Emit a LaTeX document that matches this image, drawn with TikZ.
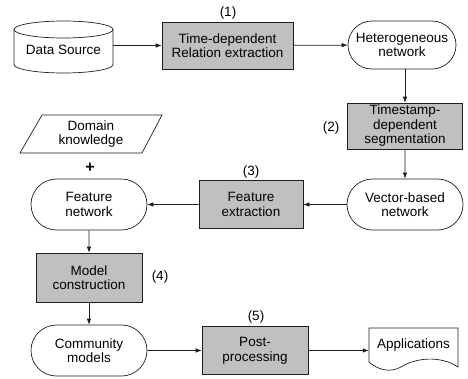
\documentclass[tikz,border=0pt]{standalone}
\usepackage{fontspec}
\setmainfont{Liberation Sans}
\usetikzlibrary{shapes.misc,arrows.meta}
\definecolor{boxgray}{RGB}{192,192,192}
\definecolor{linec}{RGB}{30,30,30}
\tikzset{
  base/.style={font=\fontsize{13.5}{14.5}\selectfont, align=center, inner sep=0pt, text=black},
  proc/.style={base, draw=linec, line width=0.7pt, fill=boxgray, rectangle},
  term/.style={base, draw=linec, line width=0.7pt, rounded rectangle, fill=white},
  plain/.style={base},
  lab/.style={font=\fontsize{13.5}{14.5}\selectfont, inner sep=0pt},
  arr/.style={draw=linec, line width=0.7pt, -{Latex[length=6pt,width=4.5pt]}},
  outl/.style={draw=linec, line width=0.7pt}
}
\begin{document}
\begin{tikzpicture}[x=1pt,y=-1pt]
\useasboundingbox (0,0) rectangle (468,378);
% Data source cylinder
\draw[outl, fill=white] (14,29.5) -- (14,64.5) arc[start angle=180, end angle=0, x radius=49.5, y radius=8.5] -- (113,29.5);
\draw[outl] (63.5,29.5) ellipse[x radius=49.5, y radius=8.5];
\node[plain, minimum width=99pt, minimum height=46pt] (ds) at (63.5,50) {Data Source};
% Process boxes
\node[proc, minimum width=131pt, minimum height=47pt] (p1) at (227.5,45.5) {Time-dependent\\Relation extraction};
\node[term, minimum width=108pt, minimum height=48pt] (het) at (402,45) {Heterogeneous\\network};
\node[proc, minimum width=115pt, minimum height=46pt] (p2) at (405,126) {Timestamp-\\dependent\\segmentation};
\node[term, minimum width=116pt, minimum height=51pt] (vec) at (405,204.5) {Vector-based\\network};
\node[proc, minimum width=104pt, minimum height=48pt] (fe) at (251,204.5) {Feature\\extraction};
\node[term, minimum width=116pt, minimum height=51pt] (fn) at (89,204.5) {Feature\\network};
\node[proc, minimum width=106pt, minimum height=49pt] (mc) at (89,277.5) {Model\\construction};
\node[term, minimum width=116pt, minimum height=51pt] (cm) at (89,350.5) {Community\\models};
\node[proc, minimum width=106pt, minimum height=48pt] (pp) at (255,350.5) {Post-\\processing};
% Domain knowledge parallelogram
\draw[outl, fill=white] (42,115) -- (162,115) -- (142,153) -- (20,153) -- cycle;
\node[plain] (dk) at (91,134) {Domain\\knowledge};
\node[lab, font=\fontsize{16}{16}\bfseries] (plus) at (90,168) {+};
% Applications document
\node[plain, minimum width=89pt, minimum height=34pt] (app) at (413.5,345) {Applications};
\draw[outl] (369,328) -- (458,328) -- (458,367) .. controls (440,355) and (415,358) .. (401,367) .. controls (390,373) and (378,370) .. (369,362) -- cycle;
% labels
\node[lab] (l1) at (228,13) {(1)};
\node[lab] (l2) at (331,128) {(2)};
\node[lab] (l3) at (251,172) {(3)};
\node[lab] (l4) at (160,277) {(4)};
\node[lab] (l5) at (256,317) {(5)};
% connectors
\draw[arr] (p1 -| ds.east) -- (p1.west);
\draw[arr] (p1) -- (het);
\draw[arr] (het.south -| p2) -- (p2.north);
\draw[arr] (p2) -- (vec);
\draw[arr] (vec) -- (fe);
\draw[arr] (fe) -- (fn);
\draw[arr] (fn) -- (mc);
\draw[arr] (mc) -- (cm);
\draw[arr] (cm) -- (pp);
\draw[arr] (pp) -- (pp -| app.west);
\end{tikzpicture}
\end{document}
